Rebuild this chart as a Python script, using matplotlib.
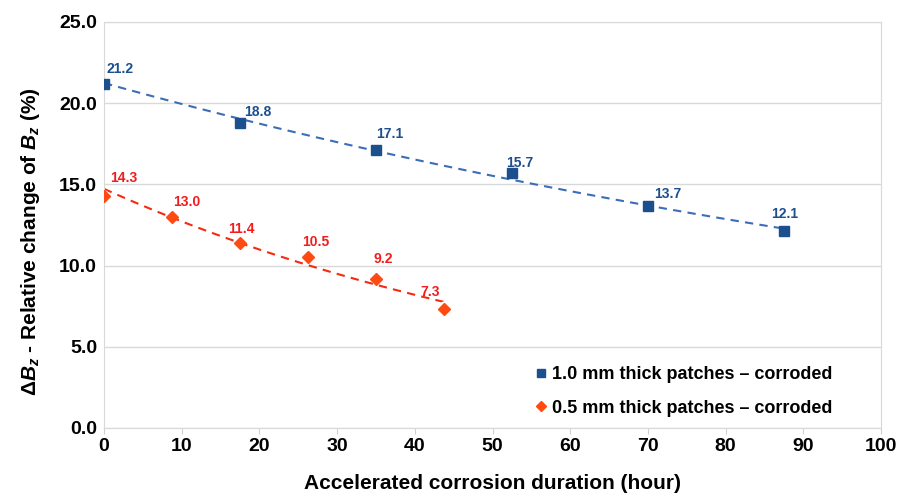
import numpy as np
import matplotlib
matplotlib.use("Agg")
import matplotlib.pyplot as plt

plt.rcParams['font.family'] = ['Liberation Sans', 'DejaVu Sans']
plt.rcParams['mathtext.fontset'] = 'custom'
plt.rcParams['mathtext.rm'] = 'Liberation Sans:bold'
plt.rcParams['mathtext.it'] = 'Liberation Sans:bold:italic'
plt.rcParams['mathtext.bf'] = 'Liberation Sans:bold'

# data
hours_thick = [0, 17.5, 35, 52.5, 70, 87.5]
dbz_thick = [21.2, 18.8, 17.1, 15.7, 13.7, 12.1]
err_thick = [0.15, 0.12, 0.15, 0.2, 0.2, 0.25]

hours_thin = [0, 8.75, 17.5, 26.25, 35, 43.75]
dbz_thin = [14.3, 13.0, 11.4, 10.5, 9.2, 7.3]
err_thin = [0.3, 0.25, 0.2, 0.2, 0.25, 0.45]

label_thick = "1.0 mm thick patches \u2013 corroded"
label_thin = "0.5 mm thick patches \u2013 corroded"

# value-label offsets (pixels) as placed in the original
off_thick = [(16, 15), (18, 11), (14, 16), (8, 10), (20, 12), (1, 17)]
off_thin = [(20, 18), (15, 15), (1, 14), (8, 15), (7, 20), (-14, 17)]

blue = "#1B4F8E"
blue_line = "#3C6DB8"
red_mark = "#FF4A12"
red_txt = "#F21C1C"
red_line = "#F52A10"

fig = plt.figure(figsize=(8.99, 4.93), dpi=100)
ax = fig.add_axes([104/899, 1-428/493, (881-104)/899, (428-22)/493])

# trend lines (exponential fit)
for x, y, c in [(hours_thick, dbz_thick, blue_line), (hours_thin, dbz_thin, red_line)]:
    k, b = np.polyfit(x, np.log(y), 1)
    xs = np.linspace(min(x), max(x), 100)
    ax.plot(xs, np.exp(b + k*xs), ls=(0, (4, 3)), color=c, lw=1.5, zorder=2)

ax.errorbar(hours_thick, dbz_thick, yerr=err_thick, fmt='s', color=blue, ms=7,
            ecolor='white', elinewidth=1, capsize=2, label=label_thick, zorder=3)
ax.errorbar(hours_thin, dbz_thin, yerr=err_thin, fmt='D', color=red_mark, ms=6.5,
            ecolor='white', elinewidth=1, capsize=2, label=label_thin, zorder=3)

for x, y, o in zip(hours_thick, dbz_thick, off_thick):
    ax.annotate(f"{y:.1f}", (x, y), xytext=o, textcoords='offset pixels',
                color=blue, fontsize=10, fontweight='bold', ha='center', va='center')
for x, y, o in zip(hours_thin, dbz_thin, off_thin):
    ax.annotate(f"{y:.1f}", (x, y), xytext=o, textcoords='offset pixels',
                color=red_txt, fontsize=10, fontweight='bold', ha='center', va='center')

ax.set_xlim(0, 100)
ax.set_ylim(0, 25)
ax.set_xticks(np.arange(0, 101, 10))
ax.set_yticks(np.arange(0, 25.1, 5))
ax.set_yticklabels([f"{v:.1f}" for v in np.arange(0, 25.1, 5)])
ax.tick_params(axis='both', labelsize=14, colors='black', length=0, pad=5)
ax.tick_params(axis='x', length=4, color='#d0d0d0', direction='out', pad=3)
for lab in ax.get_xticklabels() + ax.get_yticklabels():
    lab.set_fontweight('bold')
ax.grid(axis='y', color='#d9d9d9', lw=1)
ax.set_axisbelow(True)
for s in ax.spines.values():
    s.set_color('#d9d9d9')

ax.set_xlabel("Accelerated corrosion duration (hour)", fontsize=15, fontweight='bold', labelpad=14)
ax.set_ylabel(r"$\Delta B_z$ - Relative change of $B_z$ (%)", fontsize=15, fontweight='bold')
ax.yaxis.set_label_coords(-0.08, 0.46)

handles, labels = ax.get_legend_handles_labels()
handles = [h[0] for h in handles]
leg = ax.legend(handles, labels, loc='lower right', bbox_to_anchor=(0.958, -0.012), frameon=False,
                handlelength=0.6, handletextpad=0.3, labelspacing=0.9, markerscale=0.8,
                prop={'weight': 'bold', 'size': 13})

fig.savefig("out.png", dpi=100)
